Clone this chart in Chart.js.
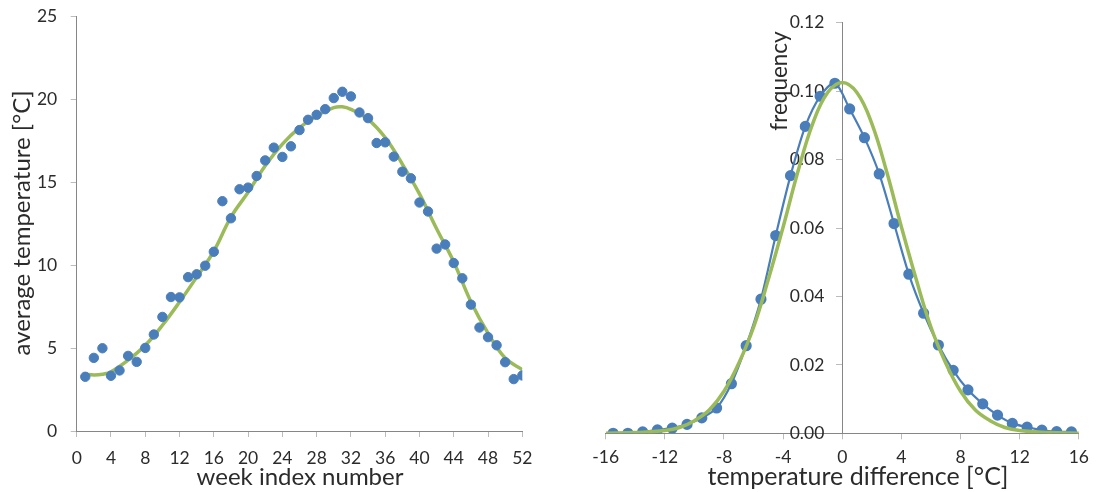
<!DOCTYPE html>
<html>
<head>
<meta charset="utf-8">
<script src="https://cdn.jsdelivr.net/npm/chart.js@4"></script>
<style>
  body { margin: 0; background: #fff; width: 1097px; height: 492px; overflow: hidden; position: relative; }
  .box { position: absolute; top: 0; height: 492px; }
</style>
</head>
<body>
<div class="box" style="left:0;width:550px"><canvas id="weekChart"></canvas></div>
<div class="box" style="left:560px;width:537px"><canvas id="diffChart"></canvas></div>
<script>
// ---------- left chart: weekly average temperature ----------
const weeks = [1,2,3,4,5,6,7,8,9,10,11,12,13,14,15,16,17,18,19,20,21,22,23,24,25,26,
  27,28,29,30,31,32,33,34,35,36,37,38,39,40,41,42,43,44,45,46,47,48,49,50,51,52];
const weekTemps = [3.27,4.41,4.99,3.33,3.65,4.53,4.17,5.01,5.82,6.88,8.08,8.06,9.28,9.45,9.97,10.81,
  13.86,12.83,14.58,14.68,15.38,16.32,17.09,16.53,17.17,18.15,18.77,19.07,19.41,20.08,20.46,20.18,
  19.21,18.87,17.37,17.41,16.55,15.64,15.24,13.78,13.24,11.0,11.25,10.13,9.21,7.62,6.24,5.66,5.17,4.15,3.13,3.35];
// fitted curve
const fitWeeks = [1,2,3,4,6,8,10,12,14,16,18,20,22,24,26,28,30,31,32,34,36,38,40,42,44,46,48,50,52];
const fitTemps = [3.43,3.38,3.42,3.57,4.27,5.17,6.38,7.78,9.28,10.85,12.9,14.4,16.0,17.3,18.3,19.0,19.5,
  19.55,19.4,18.8,17.7,16.1,14.3,12.2,10.2,7.8,5.9,4.4,3.7];
const weekTicks = { min: 0, max: 52, step: 4 };
const tempTicks = { min: 0, max: 25, step: 5 };

// ---------- right chart: temperature difference distribution ----------
const diffBins = [-15.5,-14.5,-13.5,-12.5,-11.5,-10.5,-9.5,-8.5,-7.5,-6.5,-5.5,-4.5,-3.5,-2.5,-1.5,-0.5,
  0.5,1.5,2.5,3.5,4.5,5.5,6.5,7.5,8.5,9.5,10.5,11.5,12.5,13.5,14.5,15.5];
const diffFreq = [0.0,0.0,0.0004,0.001,0.0015,0.0026,0.0045,0.0074,0.0145,0.0256,0.0392,0.0578,0.0753,0.0897,0.0985,0.1023,
  0.0948,0.0864,0.0758,0.0613,0.0465,0.0351,0.0258,0.0184,0.0127,0.0086,0.0053,0.0029,0.0018,0.0009,0.0005,0.0004];
const normX = [-16,-14,-12,-11,-10,-9,-8,-7,-6,-5,-4,-3,-2,-1,0,1,2,3,4,5,6,7,8,9,10,11,12,14,16];
const normY = [0.0,0.0002,0.0008,0.0017,0.0037,0.0068,0.0123,0.0205,0.031,0.045,0.0603,0.0765,0.0905,0.0995,0.1025,
  0.0995,0.0905,0.0765,0.0603,0.045,0.031,0.0205,0.0123,0.0068,0.0037,0.0017,0.0008,0.0002,0.0];
const diffTicks = { min: -16, max: 16, step: 4 };
const freqTicks = { min: 0, max: 0.12, step: 0.02 };

const BLUE = '#4a7ebb';
const GREEN = '#9bbb59';
const AXIS = '#868686';
const TICK = '#bcbcbc';
const TEXT = '#2b2b2b';
const FONT = 'Lato, "Open Sans", sans-serif';

function pairs(xs, ys) {
  return xs.map((x, i) => ({ x: x, y: ys[i] }));
}

// draws axis titles at fixed spots
const titlePlugin = {
  id: 'titles',
  afterDraw(chart, args, opts) {
    const ctx = chart.ctx;
    ctx.save();
    ctx.fillStyle = TEXT;
    ctx.textAlign = 'center';
    ctx.textBaseline = 'middle';
    (opts.items || []).forEach(t => {
      ctx.save();
      ctx.font = t.size + 'px ' + FONT;
      ctx.translate(t.x, t.y);
      if (t.rotate) ctx.rotate(-Math.PI / 2);
      ctx.fillText(t.text, 0, 0);
      ctx.restore();
    });
    ctx.restore();
  }
};

function axisScale(t, extra) {
  return Object.assign({
    type: 'linear',
    min: t.min,
    max: t.max,
    border: { display: true, color: AXIS, width: 1 },
    grid: { drawOnChartArea: false, drawTicks: true, tickLength: 6, color: TICK },
    ticks: { stepSize: t.step, color: TEXT, font: { family: FONT, size: 17.5 } }
  }, extra);
}

const weekScale = axisScale(weekTicks, {
  position: 'bottom',
  afterFit: s => { s.height = 61; }
});
weekScale.ticks.padding = 11;

const tempScale = axisScale(tempTicks, {
  position: 'left',
  afterFit: s => { s.width = 76.7; s.paddingTop = 0; s.paddingBottom = 0; }
});
tempScale.ticks.padding = 13.5;

new Chart(document.getElementById('weekChart'), {
  type: 'scatter',
  data: {
    datasets: [
      {
        label: 'weekly mean',
        data: pairs(weeks, weekTemps),
        backgroundColor: BLUE,
        borderColor: BLUE,
        pointRadius: 4.7,
        showLine: false,
        order: 1
      },
      {
        label: 'fit',
        data: pairs(fitWeeks, fitTemps),
        borderColor: GREEN,
        borderWidth: 3.5,
        pointRadius: 0,
        showLine: true,
        tension: 0.4,
        order: 2
      }
    ]
  },
  options: {
    responsive: true,
    maintainAspectRatio: false,
    animation: false,
    layout: { padding: { top: 16.5, right: 27.7, left: 0, bottom: 0 } },
    plugins: {
      legend: { display: false },
      tooltip: { enabled: false },
      titles: {
        items: [
          { text: 'average temperature [°C]', x: 22, y: 223, rotate: true, size: 24 },
          { text: 'week index number', x: 300, y: 477, size: 24 }
        ]
      }
    },
    scales: { x: weekScale, y: tempScale }
  },
  plugins: [titlePlugin]
});

const freqScale = axisScale(freqTicks, { position: 'center' });
freqScale.ticks.callback = v => v.toFixed(2);
freqScale.ticks.padding = 12;

const diffScale = axisScale(diffTicks, {
  position: 'bottom',
  afterFit: s => { s.height = 58.7; }
});
diffScale.ticks.padding = 8;

new Chart(document.getElementById('diffChart'), {
  type: 'scatter',
  data: {
    datasets: [
      {
        label: 'observed',
        data: pairs(diffBins, diffFreq),
        backgroundColor: BLUE,
        borderColor: BLUE,
        borderWidth: 2.2,
        pointRadius: 4.5,
        showLine: true,
        tension: 0.3,
        order: 2
      },
      {
        label: 'normal',
        data: pairs(normX, normY),
        borderColor: GREEN,
        borderWidth: 3.5,
        pointRadius: 0,
        showLine: true,
        tension: 0.4,
        order: 1
      }
    ]
  },
  options: {
    responsive: true,
    maintainAspectRatio: false,
    animation: false,
    layout: { padding: { top: 22.7, right: 12, left: 45.7, bottom: 0 } },
    plugins: {
      legend: { display: false },
      tooltip: { enabled: false },
      titles: {
        items: [
          { text: 'frequency', x: 220, y: 81, rotate: true, size: 22.5 },
          { text: 'temperature difference [°C]', x: 298, y: 477, size: 25 }
        ]
      }
    },
    scales: { x: diffScale, y: freqScale }
  },
  plugins: [titlePlugin]
});
</script>
</body>
</html>
